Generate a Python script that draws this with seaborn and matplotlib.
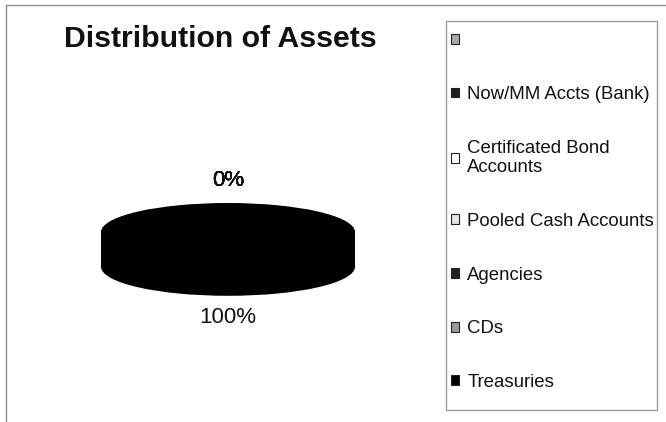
import textwrap

from matplotlib.lines import Line2D
from matplotlib.patches import Patch, Rectangle
import matplotlib.pyplot as plt
import numpy as np
import seaborn as sns

# === Data ===
CATEGORIES = [
    "",
    "Now/MM Accts (Bank)",
    "Certificated Bond Accounts",
    "Pooled Cash Accounts",
    "Agencies",
    "CDs",
    "Treasuries",
]
SHARE_PCT = [0, 0, 0, 0, 0, 0, 100]
SLICE_COLORS = ["#a8a8a8", "#1c1c1c", "#ffffff", "#e4e4e4", "#222222", "#9a9a9a", "#000000"]
TITLE = "Distribution of Assets"

# === Layout (pixels of the 666x422 picture) ===
FIG_W, FIG_H, DPI = 666, 422, 100
PIE_AX_W = 440           # width of the axes holding the pie
PIE_CX, PIE_CY = 228, 232  # centre of the top face
RX, RY = 127, 29         # px per data unit in x / y (squashes the disc)
DEPTH = 1.2              # disc thickness in y data units
N_LAYERS = 40

sns.set_theme(style="white")
plt.rcParams["font.family"] = ["Liberation Sans", "DejaVu Sans"]

fig = plt.figure(figsize=(FIG_W / DPI, FIG_H / DPI), dpi=DPI)
ax = fig.add_axes([0, 0, PIE_AX_W / FIG_W, 1])


def label_zero(p: float) -> str:
    return f"{p:.0f}%" if p < 0.5 else ""


def label_full(p: float) -> str:
    return f"{p:.0f}%" if p >= 0.5 else ""


# stack the same pie from the bottom face up to the top face -> 3D disc
offsets = np.linspace(-DEPTH, 0, N_LAYERS)
for i, dy in enumerate(offsets):
    if i == 0:
        fmt = label_full
    elif i == N_LAYERS - 1:
        fmt = label_zero
    else:
        fmt = None
    ax.pie(
        SHARE_PCT,
        colors=SLICE_COLORS,
        startangle=90,
        counterclock=False,
        center=(0, dy),
        radius=1,
        autopct=fmt,
        pctdistance=1.76,
        wedgeprops={"linewidth": 0},
        textprops={"fontsize": 16, "color": "#111111"},
    )

ax.set_aspect("auto")
ax.set_xlim(-PIE_CX / RX, (PIE_AX_W - PIE_CX) / RX)
ax.set_ylim(-(FIG_H - PIE_CY) / RY, PIE_CY / RY)
ax.axis("off")

fig.text(220 / FIG_W, 1 - 47 / FIG_H, TITLE, ha="center", va="baseline",
         fontsize=21.8, fontweight="bold", color="#111111")

# legend box drawn separately so its size matches the original
fig.add_artist(Rectangle((446 / FIG_W, 1 - 410 / FIG_H), 211 / FIG_W, 389 / FIG_H,
                         transform=fig.transFigure, facecolor="white",
                         edgecolor="#999999", linewidth=1, zorder=0))

handles = [Patch(facecolor=c, edgecolor="#222222", linewidth=0.8) for c in SLICE_COLORS]
labels = [textwrap.fill(c, 20) for c in CATEGORIES]
leg = fig.legend(
    handles,
    labels,
    loc="upper left",
    bbox_to_anchor=(443 / FIG_W, 1 - 24 / FIG_H),
    fontsize=13.4,
    handlelength=0.43,
    handleheight=0.43,
    handletextpad=0.42,
    labelspacing=1.97,
    borderpad=0.45,
    borderaxespad=0,
    frameon=False,
)
for t in leg.get_texts():
    t.set_color("#111111")

# outer chart border (top and left edges visible in the picture)
fig.add_artist(Line2D([6 / FIG_W, 6 / FIG_W], [0, 1 - 5 / FIG_H], color="#8c8c8c", lw=1))
fig.add_artist(Line2D([6 / FIG_W, 1], [1 - 5 / FIG_H, 1 - 5 / FIG_H], color="#8c8c8c", lw=1))

fig.savefig("out.png", dpi=DPI)
